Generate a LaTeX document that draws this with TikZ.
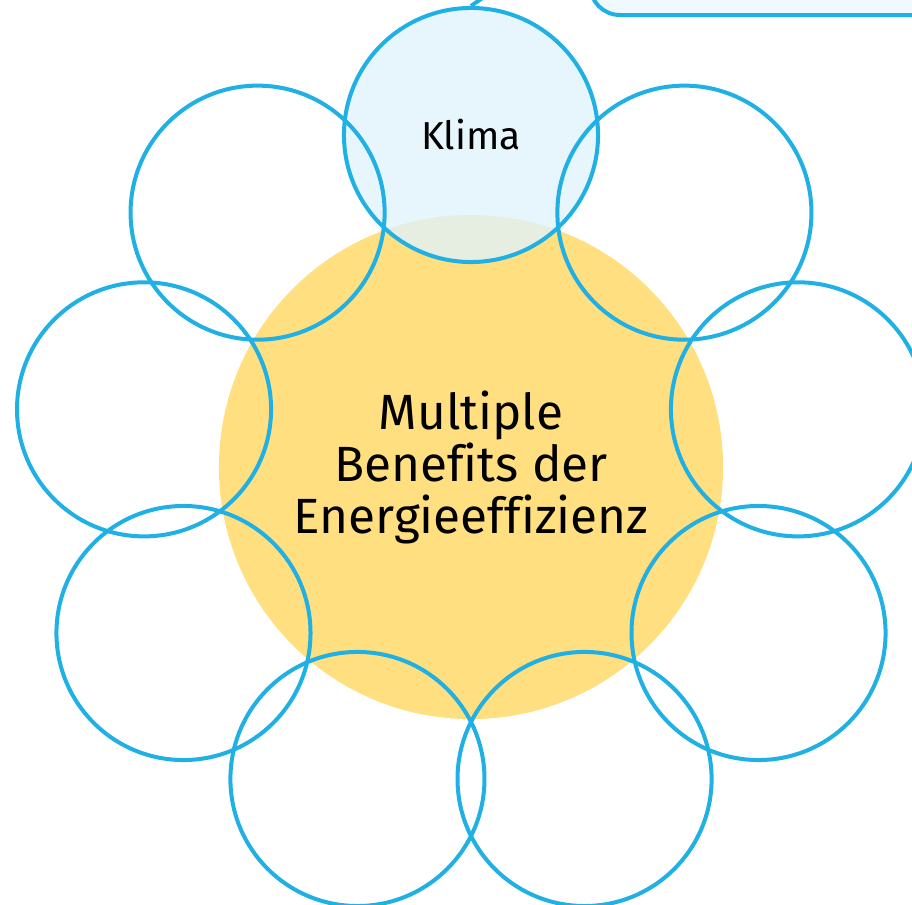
\documentclass[tikz,border=0pt]{standalone}
\usepackage{fontspec}
\setmainfont[Ligatures=NoCommon]{Fira Sans}
\usepackage{tikz}
\usetikzlibrary{arrows.meta}

\definecolor{ringblue}{RGB}{32,176,228}
\definecolor{coreyellow}{RGB}{255,223,128}
\definecolor{klimafill}{RGB}{230,246,252}
\definecolor{mixfill}{RGB}{230,238,225}
\definecolor{notefill}{RGB}{240,249,253}

\begin{document}
\begin{tikzpicture}[
    x=0.025cm, y=-0.025cm, % 一个单位 = 一个像素, y 轴向下
    ring/.style={draw=ringblue, line width=0.1cm},
    benefit/.style={ring, circle, minimum size=6.35cm, inner sep=0pt,
        font=\fontsize{27.7}{33}\selectfont},
    core/.style={circle, fill=coreyellow, minimum size=12.6cm, inner sep=0pt,
        align=center, font=\fontsize{35.2}{37}\selectfont},
    note/.style={ring, fill=notefill, rounded corners=0.75cm,
        minimum width=9.25cm, minimum height=2.875cm}
    ]
    % --- 定义绘图区域 ---
    \def\cx{471} \def\cy{467}
    \def\orbit{332} % 外圈圆心到中心的距离
    \def\rr{127}    % 外圈圆半径

    \useasboundingbox (0,0) rectangle (912,905);
    \clip (0,0) rectangle (912,905);

    % 1. 右上角的圆角框 (只露出一部分)
    \node[note] (note) at (775,-42.5) {};

    % 2. 中间的黄色大圆
    \node[core] (core) at (\cx,\cy) {Multiple\\Benefits der\\Energieeffizienz};

    % 3. Klima 圆的填充及与黄色圆的重叠部分
    \fill[klimafill] (\cx,135) circle[radius=\rr];
    \begin{scope}
        \clip (\cx,135) circle[radius=\rr];
        \fill[mixfill] (core.center) circle[radius=252];
    \end{scope}
    \node[benefit] (klima) at (\cx,135) {Klima};

    % 连线 (伸出画面)
    \coordinate (hint) at (494,-10);
    \draw[ring] (klima.north) -- (hint);

    % 4. 其余八个圆
    \foreach \a [count=\i] in {40,80,...,320} {
        \node[benefit] (b\i) at ({\cx+\orbit*sin(\a)},{\cy-\orbit*cos(\a)}) {};
    }

\end{tikzpicture}
\end{document}
